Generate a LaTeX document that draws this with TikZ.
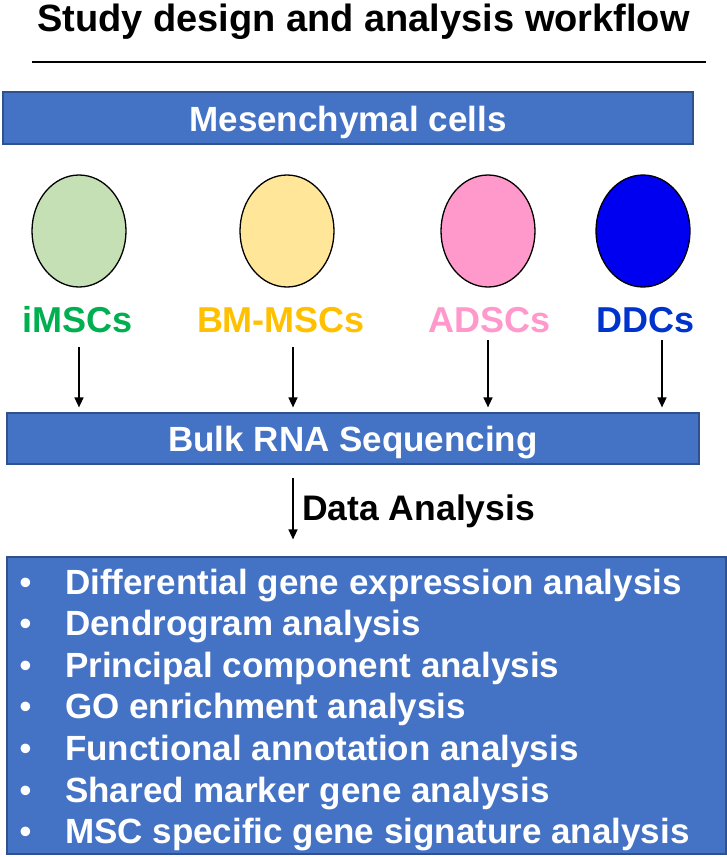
\documentclass[tikz,border=0pt]{standalone}
\usepackage{fontspec}
\setmainfont{Liberation Sans}
\usetikzlibrary{shapes.geometric,arrows.meta}
\definecolor{boxblue}{HTML}{4472C4}
\definecolor{boxedge}{HTML}{2F528F}
\definecolor{imscfill}{HTML}{C5E0B4}
\definecolor{bmfill}{HTML}{FFE699}
\definecolor{adfill}{HTML}{FF99CC}
\definecolor{ddfill}{HTML}{0000F0}
\definecolor{imsctext}{HTML}{00B050}
\definecolor{bmtext}{HTML}{FFC000}
\definecolor{adtext}{HTML}{FF99CC}
\definecolor{ddtext}{HTML}{0033CC}
\begin{document}
\begin{tikzpicture}[x=1pt,y=-1pt,
  bar/.style={draw=boxedge, fill=boxblue, line width=1.2pt, inner sep=0pt,
    text=white, font=\fontsize{35}{40}\selectfont\bfseries,
    text height=26pt, text depth=0pt},
  cell/.style={ellipse, draw=black, line width=1.3pt, minimum width=94pt,
    minimum height=112pt, inner sep=0pt},
  celltag/.style={anchor=base, inner sep=0pt, font=\fontsize{36}{40}\selectfont\bfseries},
  arr/.style={line width=1.5pt, -{Triangle[length=10pt,width=9pt]}},
  item/.style={anchor=base west, inner sep=0pt, text=white,
    font=\fontsize{35}{40}\selectfont\bfseries},
  dot/.style={anchor=base, inner sep=0pt, text=white,
    font=\fontsize{35}{40}\selectfont}
]
\useasboundingbox (0,0) rectangle (727,857);

% heading and rule
\node[anchor=base, inner sep=0pt, font=\fontsize{38}{44}\selectfont\bfseries]
  (title) at (363.5,31.5) {Study design and analysis workflow};
\coordinate (ruleL) at (32,62);
\coordinate (ruleR) at (706,62);
\draw[line width=1.8pt] (ruleL) -- (ruleR);

% source cells
\node[bar, minimum width=690pt, minimum height=52pt] (mesen) at (348,118) {Mesenchymal cells};

\node[cell, fill=imscfill] (c1) at (79,231) {};
\node[cell, fill=bmfill]   (c2) at (287,231) {};
\node[cell, fill=adfill]   (c3) at (488,231) {};
\node[cell, fill=ddfill]   (c4) at (643,231) {};

\node[celltag, text=imsctext] (l1) at (78,332) {iMSCs};
\node[celltag, text=bmtext]   (l2) at (281,332) {BM-MSCs};
\node[celltag, text=adtext]   (l3) at (490,332) {ADSCs};
\node[celltag, text=ddtext]   (l4) at (646,332) {DDCs};

% sequencing step
\node[bar, minimum width=692pt, minimum height=51pt] (bulk) at (353,438.5) {Bulk RNA Sequencing};

\coordinate (s1) at (79,347);
\coordinate (s2) at (293,347);
\coordinate (s3) at (488,340);
\coordinate (s4) at (662,340);
\foreach \s in {s1,s2,s3,s4}
  \draw[arr, shorten >=5pt] (\s) -- (\s |- bulk.north);

% analysis step
\node[draw=boxedge, fill=boxblue, line width=1.2pt, inner sep=0pt,
  minimum width=719pt, minimum height=297pt] (results) at (366.5,705.5) {};

\coordinate (da) at (293,478);
\draw[arr, shorten >=17pt] (da) -- (da |- results.north);
\node[anchor=base west, inner sep=0pt, font=\fontsize{35.5}{40}\selectfont\bfseries]
  (dalabel) at (302,520) {Data Analysis};

\foreach \t [count=\i] in {Differential gene expression analysis,
    Dendrogram analysis, Principal component analysis,
    GO enrichment analysis, Functional annotation analysis,
    Shared marker gene analysis, MSC specific gene signature analysis} {
  \node[dot]  (b\i) at (25.5,552.5+41.6*\i) {\textbullet};
  \node[item] (t\i) at (65,552.5+41.6*\i) {\t};
}
\end{tikzpicture}
\end{document}
